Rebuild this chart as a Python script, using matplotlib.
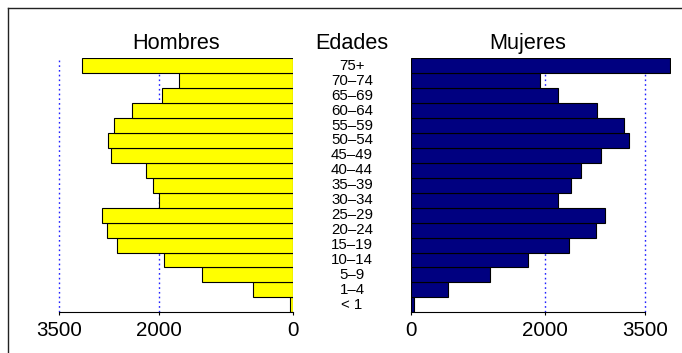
import numpy as np
import matplotlib.pyplot as plt
from matplotlib.lines import Line2D
from matplotlib.transforms import blended_transform_factory

plt.rcParams['font.family'] = ['Liberation Sans', 'DejaVu Sans']

# age groups from bottom (<1) to top (75+)
edades = ['< 1', '1\u20134', '5\u20139', '10\u201314', '15\u201319', '20\u201324', '25\u201329',
          '30\u201334', '35\u201339', '40\u201344', '45\u201349', '50\u201354', '55\u201359',
          '60\u201364', '65\u201369', '70\u201374', '75+']
hombres = [54, 597, 1363, 1931, 2637, 2786, 2856, 2000, 2100, 2204, 2717, 2767, 2672,
           2404, 1956, 1707, 3159]
mujeres = [45, 552, 1179, 1756, 2359, 2762, 2896, 2195, 2389, 2538, 2846, 3255, 3180,
           2786, 2199, 1931, 3876]
grid_vals = [2000, 3500]
tick_vals = [0, 2000, 3500]

W, H = 682, 353
fig = plt.figure(figsize=(W / 100, H / 100), dpi=100)

bottom = (H - 312.3) / H
height = (312.3 - 58.3) / H
axL = fig.add_axes([32.1 / W, bottom, (293.3 - 32.1) / W, height])
axR = fig.add_axes([410.7 / W, bottom, (670.6 - 410.7) / W, height])

y = np.arange(len(edades))
axL.barh(y, hombres, height=1.0, color='#FFFF00', edgecolor='black', linewidth=0.8, zorder=2)
axR.barh(y, mujeres, height=1.0, color='#000080', edgecolor='black', linewidth=0.8, zorder=2)

axL.set_xlim(3900, 0)
axR.set_xlim(0, 3880)

for ax in (axL, axR):
    ax.set_ylim(-0.5, len(edades) - 0.5)
    for g in grid_vals:
        ax.axvline(g, color='#2020FF', linestyle=(0, (1.2, 2.2)), linewidth=1.0, zorder=1)
    for s in ('top', 'left', 'right'):
        ax.spines[s].set_visible(False)
    ax.spines['bottom'].set_bounds(0, 3500)
    ax.spines['bottom'].set_linewidth(0.8)
    ax.set_yticks([])
    ax.set_xticks(tick_vals)
    ax.set_xticklabels([str(t) for t in tick_vals])
    ax.tick_params(axis='x', length=2.5, width=0.8, pad=3.5, labelsize=14.8)
    ax.patch.set_visible(False)

# titles
fig.text(176 / W, (H - 49.3) / H, 'Hombres', ha='center', va='baseline', fontsize=15.6)
fig.text(352 / W, (H - 49.3) / H, 'Edades', ha='center', va='baseline', fontsize=15.6)
fig.text(528 / W, (H - 49.3) / H, 'Mujeres', ha='center', va='baseline', fontsize=15.6)

# age labels in the middle
tr = blended_transform_factory(fig.transFigure, axL.transData)
for i, lab in enumerate(edades):
    fig.text(352 / W, i, lab, ha='center', va='center', fontsize=10.8, transform=tr)

# outer frame (top and left edges)
fig.add_artist(Line2D([7.5 / W, 1], [1 - 8.3 / H, 1 - 8.3 / H], color='#222222', linewidth=1.0))
fig.add_artist(Line2D([7.5 / W, 7.5 / W], [0, 1 - 8.3 / H], color='#222222', linewidth=1.0))

fig.savefig('out.png', dpi=100)
